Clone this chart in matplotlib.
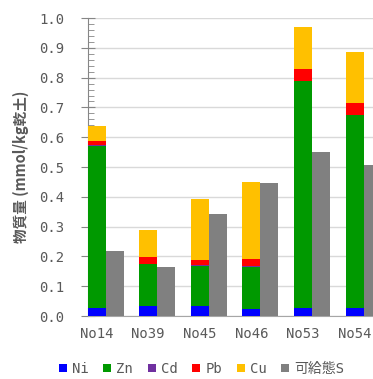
import matplotlib
matplotlib.use("Agg")
import matplotlib.pyplot as plt
import numpy as np
from matplotlib.lines import Line2D
from matplotlib.ticker import MultipleLocator

plt.rcParams['font.family'] = ['DejaVu Sans Mono', 'Noto Sans CJK JP']

# data
sites = ["No14", "No39", "No45", "No46", "No53", "No54"]
ni = [0.028, 0.034, 0.035, 0.025, 0.028, 0.028]
zn = [0.543, 0.140, 0.134, 0.141, 0.760, 0.645]
cd = [0.002, 0.002, 0.002, 0.002, 0.002, 0.002]
pb = [0.015, 0.021, 0.017, 0.023, 0.038, 0.040]
cu = [0.050, 0.092, 0.205, 0.258, 0.142, 0.171]
avail_s = [0.220, 0.163, 0.342, 0.447, 0.549, 0.506]

metal_names = ["Ni", "Zn", "Cd", "Pb", "Cu"]
metal_colors = ["#0000FF", "#009900", "#7030A0", "#FF0000", "#FFC000"]
s_name = "可給態S"
s_color = "#808080"

fig = plt.figure(figsize=(3.73, 3.79), dpi=100)
ax = fig.add_axes([0.236, 0.166, 0.764, 0.7865])

x = np.arange(len(sites))
w = 0.348
bottom = np.zeros(len(sites))
for vals, col in zip([ni, zn, cd, pb, cu], metal_colors):
    ax.bar(x - w / 2, vals, width=w, bottom=bottom, color=col, linewidth=0, zorder=3)
    bottom += np.array(vals)
ax.bar(x + w / 2, avail_s, width=w, color=s_color, linewidth=0, zorder=3)

ax.set_xlim(-0.34, 5.18)
ax.set_ylim(0, 1.0)
ax.yaxis.set_major_locator(MultipleLocator(0.1))
ax.yaxis.set_minor_locator(MultipleLocator(0.02))
ax.set_yticklabels([f"{v:.1f}" for v in ax.get_yticks()])
# category labels sit under the stacked bars
ax.set_xticks(x - w / 2)
ax.set_xticklabels(sites)
ax.grid(axis="y", color="#d9d9d9", linewidth=1.0, zorder=0)

for sp in ["top", "right"]:
    ax.spines[sp].set_visible(False)
ax.spines["left"].set_color("#868686")
ax.spines["bottom"].set_color("#a6a6a6")
ax.tick_params(axis="y", which="major", direction="inout", length=10, color="#868686",
               labelsize=10, labelcolor="#595959", pad=12)
ax.tick_params(axis="y", which="minor", direction="in", length=4, color="#868686")
ax.tick_params(axis="x", length=0, labelsize=10, labelcolor="#595959", pad=8)

fig.text(0.055, 0.56, "物質量 (mmol/kg乾土)", rotation=90, ha="center", va="center",
         fontsize=10.5, color="#595959", fontweight="bold",
         family=['Noto Sans CJK JP', 'DejaVu Sans'])

handles = [Line2D([], [], marker="s", linestyle="none", markersize=6,
                  markerfacecolor=c, markeredgewidth=0) for c in metal_colors + [s_color]]
fig.legend(handles, metal_names + [s_name], loc="center", bbox_to_anchor=(0.536, 0.027),
           ncol=6, frameon=False, fontsize=10, handletextpad=0.15, columnspacing=0.85,
           handlelength=1.0, labelcolor="#595959", borderaxespad=0)

fig.savefig("out.png", dpi=100)
